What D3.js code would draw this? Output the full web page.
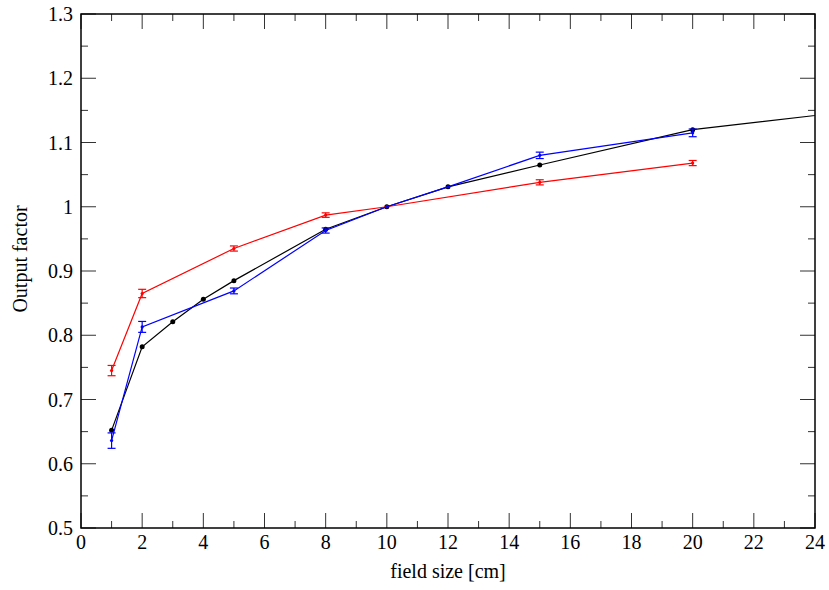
<!DOCTYPE html>
<html>
<head>
<meta charset="utf-8">
<script src="https://cdn.jsdelivr.net/npm/d3@7"></script>
<style>
  body { margin: 0; background: #fff; }
  svg text { font-family: "Liberation Serif", "DejaVu Serif", serif; }
</style>
</head>
<body>
<svg id="plot" width="829" height="590"></svg>
<script>
// data
var blackX = [1, 2, 3, 4, 5, 8, 10, 12, 15, 20, 25];
var blackY = [0.652, 0.782, 0.821, 0.856, 0.885, 0.965, 1.0, 1.031, 1.065, 1.120, 1.1475];

var redX = [1, 2, 5, 8, 10, 15, 20];
var redY = [0.745, 0.865, 0.935, 0.987, 1.0, 1.038, 1.068];
var redErr = [0.008, 0.0065, 0.004, 0.0035, 0.0, 0.004, 0.004];

var blueX = [1, 2, 5, 8, 10, 12, 15, 20];
var blueY = [0.636, 0.813, 0.869, 0.963, 1.0, 1.031, 1.080, 1.115];
var blueErr = [0.012, 0.0085, 0.0045, 0.004, 0.0, 0.0, 0.005, 0.006];

var xTicks = d3.range(0, 25, 2);
var yTicks = [0.5, 0.6, 0.7, 0.8, 0.9, 1, 1.1, 1.2, 1.3];

var svg = d3.select("#plot");
var padL = 81, padR = 815, padT = 14, padB = 528;

var x = d3.scaleLinear().domain([0, 24]).range([padL, padR]);
var y = d3.scaleLinear().domain([0.5, 1.3]).range([padB, padT]);

svg.append("clipPath").attr("id", "clip")
  .append("rect").attr("x", padL).attr("y", padT)
  .attr("width", padR - padL).attr("height", padB - padT);

// ticks on all four sides, pointing inward
var major = 15, minor = 7;
var tickG = svg.append("g").attr("stroke", "#333").attr("stroke-width", 1);
d3.range(0, 25, 1).forEach(function (v) {
  var len = v % 2 == 0 ? major : minor;
  tickG.append("line").attr("x1", x(v)).attr("x2", x(v)).attr("y1", padB).attr("y2", padB - len);
  tickG.append("line").attr("x1", x(v)).attr("x2", x(v)).attr("y1", padT).attr("y2", padT + len);
});
d3.range(0, 17, 1).forEach(function (i) {
  var v = 0.5 + i * 0.05;
  var len = i % 2 == 0 ? major : minor;
  tickG.append("line").attr("x1", padL).attr("x2", padL + len).attr("y1", y(v)).attr("y2", y(v));
  tickG.append("line").attr("x1", padR).attr("x2", padR - len).attr("y1", y(v)).attr("y2", y(v));
});

// tick labels
svg.append("g").selectAll("text").data(xTicks).enter().append("text")
  .attr("x", function (d) { return x(d); })
  .attr("y", 549)
  .attr("text-anchor", "middle")
  .style("font-size", "20px")
  .text(function (d) { return d; });

svg.append("g").selectAll("text").data(yTicks).enter().append("text")
  .attr("x", 73)
  .attr("y", function (d) { return y(d) + 7; })
  .attr("text-anchor", "end")
  .style("font-size", "20px")
  .text(function (d) { return String(+d.toFixed(1)); });

// axis titles
svg.append("text")
  .attr("x", (padL + padR) / 2)
  .attr("y", 578)
  .attr("text-anchor", "middle")
  .style("font-size", "20px")
  .text("field size [cm]");

svg.append("text")
  .attr("transform", "translate(27,259) rotate(-90)")
  .attr("text-anchor", "middle")
  .style("font-size", "20px")
  .text("Output factor");

// series
var line = d3.line().x(function (d) { return x(d[0]); }).y(function (d) { return y(d[1]); });
var plotG = svg.append("g").attr("clip-path", "url(#clip)");

var drawSeries = function (xs, ys, errs, colour, r) {
  var pts = xs.map(function (v, i) { return [v, ys[i], errs ? errs[i] : 0]; });
  plotG.append("path").datum(pts)
    .attr("d", line)
    .attr("fill", "none")
    .attr("stroke", colour)
    .attr("stroke-width", 1.2);
  if (errs) {
    pts.forEach(function (p) {
      if (p[2] <= 0) return;
      var cx = x(p[0]), y1 = y(p[1] - p[2]), y2 = y(p[1] + p[2]);
      plotG.append("line").attr("x1", cx).attr("x2", cx).attr("y1", y1).attr("y2", y2)
        .attr("stroke", colour).attr("stroke-width", 1.2);
      plotG.append("line").attr("x1", cx - 4).attr("x2", cx + 4).attr("y1", y1).attr("y2", y1)
        .attr("stroke", colour).attr("stroke-width", 1.2);
      plotG.append("line").attr("x1", cx - 4).attr("x2", cx + 4).attr("y1", y2).attr("y2", y2)
        .attr("stroke", colour).attr("stroke-width", 1.2);
    });
  }
  pts.forEach(function (p) {
    plotG.append("circle").attr("cx", x(p[0])).attr("cy", y(p[1])).attr("r", r).attr("fill", colour);
  });
};

drawSeries(blackX, blackY, null, "#000", 2.5);
drawSeries(redX, redY, redErr, "#ff0000", 1.6);
drawSeries(blueX, blueY, blueErr, "#0000ff", 1.6);

// frame
svg.append("rect")
  .attr("x", padL).attr("y", padT)
  .attr("width", padR - padL).attr("height", padB - padT)
  .attr("fill", "none").attr("stroke", "#000").attr("stroke-width", 1.5);
</script>
</body>
</html>
